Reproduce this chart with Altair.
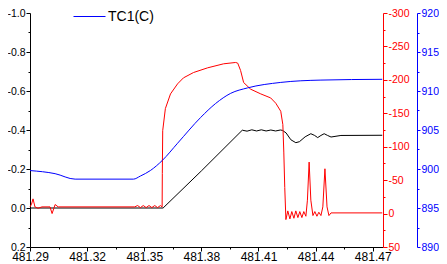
import altair as alt
import pandas as pd

FONT = "Liberation Sans"

# ---- data ----
black_t = [481.2900, 481.3599, 481.3800, 481.4015, 481.4040, 481.4065, 481.4090, 481.4115,
           481.4140, 481.4165, 481.4190, 481.4215, 481.4226, 481.4245, 481.4270, 481.4296,
           481.4315, 481.4345, 481.4375, 481.4395, 481.4411, 481.4428, 481.4445, 481.4463,
           481.4481, 481.4533, 481.4750]
black_v = [0.0, 0.0, -0.190, -0.399, -0.394, -0.401, -0.395, -0.401,
           -0.395, -0.400, -0.395, -0.400, -0.398, -0.385, -0.350, -0.335,
           -0.340, -0.365, -0.381, -0.372, -0.361, -0.372, -0.381, -0.372,
           -0.364, -0.372, -0.373]

red_t = [481.2900, 481.2908, 481.2916, 481.2926, 481.2942, 481.2963, 481.3005, 481.3016,
         481.3032, 481.3048, 481.3450, 481.3465, 481.3480, 481.3495, 481.3510, 481.3525,
         481.3540, 481.3555, 481.3570, 481.3585, 481.3594, 481.3595, 481.3597, 481.3611,
         481.3638, 481.3675, 481.3706, 481.3759, 481.3833, 481.3917, 481.3980, 481.3991,
         481.4006, 481.4022, 481.4059, 481.4112, 481.4164, 481.4191, 481.4217, 481.4228,
         481.4233, 481.4238, 481.4244, 481.4254, 481.4265, 481.4275, 481.4286, 481.4296,
         481.4307, 481.4317, 481.4328, 481.4338, 481.4349, 481.4357, 481.4366, 481.4375,
         481.4386, 481.4396, 481.4407, 481.4417, 481.4428, 481.4438, 481.4449, 481.4460,
         481.4470, 481.4481, 481.4750]
red_v = [-10, -14, -22, -10, -8, -10, -10, 0,
         -13.5, -10, -10, -12, -9, -12, -9, -12,
         -9, -12, -9, -12, -10, -60, -124, -157,
         -179, -194, -203, -211, -218, -224, -226, -225,
         -214, -196, -186, -179, -173, -165, -153, -133,
         -92, -39, 9, -4, 8, -3, 7, -4,
         6, -3, 6, -3, 4, -20, -77, -20,
         3, -3, 4, -2, 3, -10, -67, -10,
         3, -1, -1]

blue_t = [481.2900, 481.3032, 481.3137, 481.3443, 481.3480, 481.3532, 481.3595, 481.3675,
          481.3796, 481.3875, 481.3954, 481.4043, 481.4217, 481.4428, 481.4750]
blue_v = [899.8, 899.4, 898.7, 898.7, 899.1, 899.8, 901.1, 903.3,
          906.6, 908.4, 909.7, 910.4, 911.1, 911.4, 911.5]

series_name = ["TC1(C)"]

x_ticks = [481.29, 481.305, 481.32, 481.335, 481.35, 481.365, 481.38, 481.395,
           481.41, 481.425, 481.44, 481.455, 481.47]
left_ticks = [-1.0, -0.9, -0.8, -0.7, -0.6, -0.5, -0.4, -0.3, -0.2, -0.1, 0.0, 0.1, 0.2]
red_ticks = [-300, -275, -250, -225, -200, -175, -150, -125, -100, -75, -50, -25, 0, 25, 50]
blue_ticks = [890, 892.5, 895, 897.5, 900, 902.5, 905, 907.5, 910, 912.5, 915, 917.5, 920]

df_black = pd.DataFrame({"t": black_t, "v": black_v})
df_red = pd.DataFrame({"t": red_t, "v": red_v})
df_blue = pd.DataFrame({"t": blue_t, "v": blue_v, "series": series_name * len(blue_t)})

MINUS = "\u2212"

x_minor = "round((datum.value-481.29)/0.015) % 2 == 1"
x_axis = alt.Axis(
    values=x_ticks, title=None, grid=False, domainColor="black", tickColor="black",
    labelColor="black", labelFont=FONT, labelFontSize=12, labelFlush=False,
    labelOverlap=False, labelPadding=0,
    tickSize={"condition": {"test": x_minor, "value": 2}, "value": 4},
    labelExpr=f"{x_minor} ? '' : format(datum.value, '.2f')",
)
x_enc = alt.X("t:Q", scale=alt.Scale(domain=[481.29, 481.4754], nice=False, zero=False), axis=x_axis)

left_minor = "abs(round(datum.value*10)) % 2 == 1"
left_axis = alt.Axis(
    values=left_ticks, orient="left", title=None, grid=False, domainColor="black",
    tickColor="black", labelColor="black", labelFont=FONT, labelFontSize=10.5,
    labelPadding=1, labelOverlap=False,
    tickSize={"condition": {"test": left_minor, "value": 2}, "value": 4},
    labelExpr=f"{left_minor} ? '' : replace(format(datum.value, '.1f'), '{MINUS}', '-')",
)

red_minor = "abs(round(datum.value)) % 50 != 0"
red_axis = alt.Axis(
    values=red_ticks, orient="right", offset=0, title=None, grid=False,
    domainColor="#ff0000", tickColor="#ff0000", labelColor="#ff0000",
    labelFont=FONT, labelFontSize=10.5, labelPadding=1, labelOverlap=False,
    tickSize={"condition": {"test": red_minor, "value": 2}, "value": 4},
    labelExpr=f"{red_minor} ? '' : replace(format(datum.value, '.0f'), '{MINUS}', '-')",
)

blue_minor = "datum.value % 5 != 0"
blue_axis = alt.Axis(
    values=blue_ticks, orient="right", offset=34, title=None, grid=False,
    domainColor="#0000ff", tickColor="#0000ff", labelColor="#0000ff",
    labelFont=FONT, labelFontSize=10.5, labelPadding=1, labelOverlap=False,
    tickSize={"condition": {"test": blue_minor, "value": 2}, "value": 3},
    labelExpr=f"{blue_minor} ? '' : format(datum.value, '.0f')",
)

black_layer = alt.Chart(df_black).mark_line(color="#000000", strokeWidth=1).encode(
    x=x_enc,
    y=alt.Y("v:Q", scale=alt.Scale(domain=[-1.0, 0.2], reverse=True, nice=False, zero=False), axis=left_axis),
)

red_layer = alt.Chart(df_red).mark_line(color="#ff0000", strokeWidth=1).encode(
    x=x_enc,
    y=alt.Y("v:Q", scale=alt.Scale(domain=[-300, 50], reverse=True, nice=False, zero=False), axis=red_axis),
)

blue_layer = alt.Chart(df_blue).mark_line(strokeWidth=1, interpolate="monotone").encode(
    x=x_enc,
    y=alt.Y("v:Q", scale=alt.Scale(domain=[890, 920], nice=False, zero=False), axis=blue_axis),
    color=alt.Color(
        "series:N",
        scale=alt.Scale(domain=series_name, range=["#0000ff"]),
        legend=alt.Legend(
            orient="none", legendX=43, legendY=-13, title=None, symbolType="stroke",
            symbolSize=1024, symbolStrokeWidth=1, symbolStrokeColor="#0000ff",
            labelFont=FONT, labelFontSize=14,
            labelColor="black", labelOffset=2, padding=0,
        ),
    ),
)

chart = alt.layer(black_layer, red_layer, blue_layer).resolve_scale(
    y="independent"
).properties(
    width=353,
    height=234,
    autosize=alt.AutoSizeParams(type="none"),
    padding={"left": 22, "top": 5, "right": 56, "bottom": 20},
).configure_view(stroke=None)

chart.save("out.html", embed_options={"renderer": "svg", "actions": False})
